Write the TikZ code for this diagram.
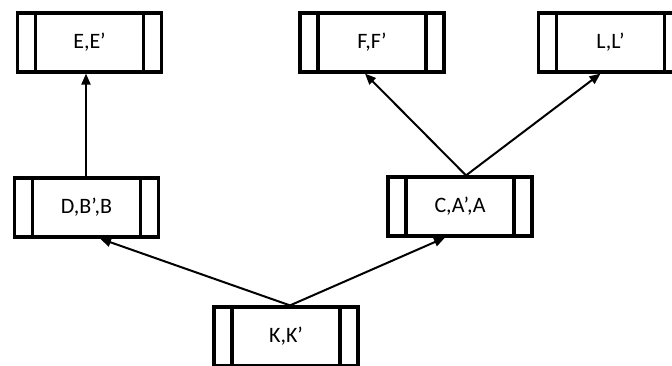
\documentclass[tikz,border=0pt]{standalone}
\usepackage{fontspec}
\setmainfont{Carlito}
\usetikzlibrary{arrows.meta}

\tikzset{
  state/.style={
    draw, line width=3.2pt, rectangle, inner sep=0pt,
    minimum width=144pt, minimum height=59pt,
    font=\fontsize{22}{24}\selectfont,
    path picture={
      \draw[line width=3.2pt]
        ([xshift=18pt]path picture bounding box.north west) --
        ([xshift=18pt]path picture bounding box.south west)
        ([xshift=-18pt]path picture bounding box.north east) --
        ([xshift=-18pt]path picture bounding box.south east);
    }
  },
  link/.style={line width=2pt, -{Triangle[length=11pt,width=9pt]}}
}

\begin{document}
\begin{tikzpicture}[x=1pt,y=-1pt]
  \fill[white] (0,0) rectangle (672,365);
  \useasboundingbox (0,0) rectangle (672,365);

  \node[state] (E) at (89.5,42.5)  {E,E’};
  \node[state] (F) at (372,42.5)   {F,F’};
  \node[state] (L) at (610.5,42.5) {L,L’};
  \node[state] (D) at (86.5,207.5) {D,B’,B};
  \node[state] (C) at (460,206.5)  {C,A’,A};
  \node[state] (K) at (286,336.5)  {K,K’};

  \coordinate (Ktop) at ([xshift=4pt]K.north);
  \coordinate (Ctop) at ([xshift=6pt]C.north);
  \coordinate (Dtop) at ([xshift=-0.5pt]D.north);

  \draw[link] (Dtop) -- (Dtop |- E.south);
  \draw[link] (Ktop) -- ([xshift=13.5pt]D.south);
  \draw[link] (Ktop) -- ([xshift=-15pt]C.south);
  \draw[link] (Ctop) -- ([xshift=-7pt]F.south);
  \draw[link] (Ctop) -- ([xshift=-10pt]L.south);
\end{tikzpicture}
\end{document}
